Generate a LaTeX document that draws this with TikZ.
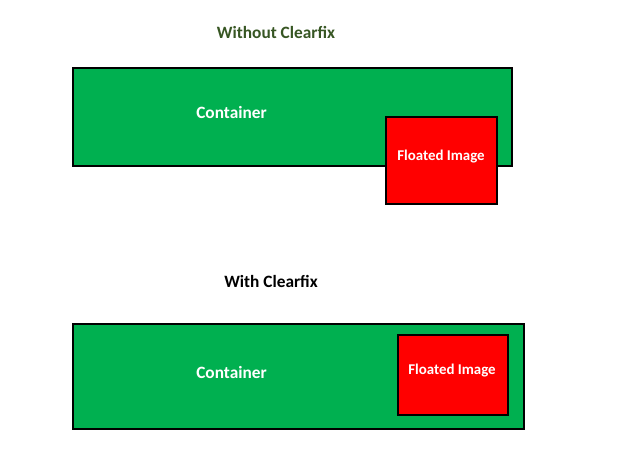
\documentclass[tikz,border=0pt]{standalone}
\usepackage{fontspec}
\setmainfont{Carlito}
\definecolor{offgreen}{HTML}{00B050}
\definecolor{darkgreentext}{HTML}{375623}
\begin{document}
\begin{tikzpicture}[x=1pt,y=-1pt,
  box/.style={draw=black,line width=1.8pt},
  cont/.style={box,fill=offgreen},
  img/.style={box,fill=red},
  lbl/.style={text=white,font=\bfseries\fontsize{17.3}{20}\selectfont},
  imglbl/.style={text=white,font=\bfseries\fontsize{14.9}{17}\selectfont},
  title/.style={font=\bfseries\fontsize{17.3}{20}\selectfont}]
\useasboundingbox[fill=white] (0,0) rectangle (636,454);
% Without clearfix
\node[title,text=darkgreentext] (t1) at (276,32) {Without Clearfix};
\path[cont] (73,68) rectangle (512,166);
\node[lbl] (l1) at (231.5,112) {Container};
\path[img] (386,117) rectangle (497,204);
\node[imglbl] (i1) at (441,157) {Floated Image};
% With clearfix
\node[title,text=black] (t2) at (271,281) {With Clearfix};
\path[cont] (73,324) rectangle (524,429);
\node[lbl] (l2) at (231.5,372) {Container};
\path[img] (398,335) rectangle (508,415);
\node[imglbl] (i2) at (452,371) {Floated Image};
\end{tikzpicture}
\end{document}
